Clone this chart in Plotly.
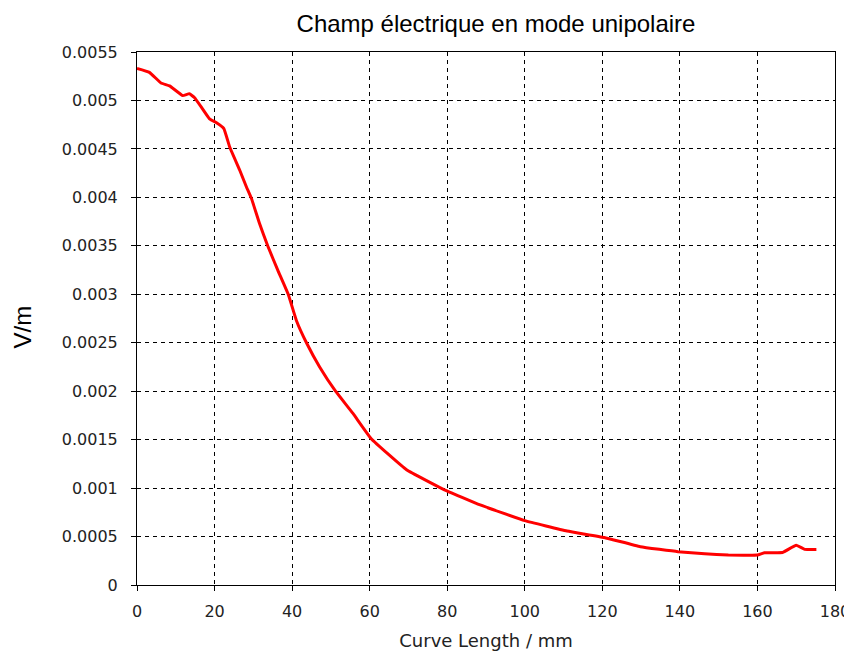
import plotly.graph_objects as go

# Data
curve_length_mm = [0, 3.2, 6.2, 8.4, 11.8, 13.5, 14.8, 16.6, 18.7, 20.5, 22.4, 23.9,
                   26.5, 28.2, 29.5, 31.6, 33.7, 36.3, 39.0, 41.1, 43.7, 47.1, 51.2,
                   55.7, 60.4, 69.5, 78.9, 88.5, 100.0, 110.9, 120.5, 129.8, 139.5,
                   146.4, 152.5, 160.0, 161.8, 166.5, 170.0, 172.2, 175.2]
field_v_per_m = [0.00533, 0.00529, 0.00518, 0.00515, 0.00505, 0.00507, 0.00503, 0.00493,
                 0.00481, 0.00477, 0.00471, 0.00452, 0.00428, 0.00411, 0.00399, 0.00373,
                 0.00350, 0.00325, 0.00300, 0.00273, 0.00250, 0.00225, 0.00200, 0.00177,
                 0.00151, 0.00119, 0.00099, 0.000826, 0.000664, 0.000557, 0.00049,
                 0.000395, 0.000344, 0.000323, 0.000309, 0.000309, 0.000333, 0.000336,
                 0.00041, 0.000368, 0.000366]

x_tick_vals = [0, 20, 40, 60, 80, 100, 120, 140, 160, 180]
y_tick_vals = [0, 0.0005, 0.001, 0.0015, 0.002, 0.0025, 0.003, 0.0035, 0.004, 0.0045, 0.005, 0.0055]
y_tick_text = ["0", "0.0005", "0.001", "0.0015", "0.002", "0.0025", "0.003", "0.0035",
               "0.004", "0.0045", "0.005", "0.0055"]

title_text = "Champ électrique en mode unipolaire"
x_title = "Curve Length / mm"
y_title = "V/m"

# The page body adds an 8px margin, so the figure is 844x648
W, H = 844, 648

fig = go.Figure()
fig.add_trace(go.Scatter(x=curve_length_mm, y=field_v_per_m, mode="lines",
                         line=dict(color="#ff0000", width=3, shape="spline", smoothing=0.3),
                         showlegend=False, hoverinfo="x+y"))

tick_font = dict(family="DejaVu Sans", size=16, color="#222222")
axis_common = dict(showline=True, linecolor="black", linewidth=1, mirror=True,
                   showgrid=True, gridcolor="black", gridwidth=1, griddash="4px,4px",
                   ticks="outside", ticklen=5, tickcolor="black", tickfont=tick_font,
                   zeroline=False, automargin=False, ticklabeloverflow="allow")

fig.update_layout(
    width=W, height=H,
    margin=dict(l=129, r=17, t=44, b=71),
    paper_bgcolor="white", plot_bgcolor="white",
    title=dict(text=title_text, x=488 / W, xanchor="center", xref="container",
               y=1 - 16 / H, yanchor="middle", yref="container",
               font=dict(family="Liberation Sans", size=24, color="black")),
    xaxis=dict(range=[0, 180], tickvals=x_tick_vals, ticklabelstandoff=7,
               title=dict(text=x_title, standoff=14,
                          font=dict(family="DejaVu Sans", size=18, color="#222222")),
               **axis_common),
    yaxis=dict(range=[0, 0.0055], tickvals=y_tick_vals, ticktext=y_tick_text,
               ticklabelstandoff=10, **axis_common),
    annotations=[dict(text=y_title, textangle=-90, xref="paper", yref="paper",
                      x=0, xshift=-115, xanchor="center", y=(577 - 319.5) / 533,
                      yanchor="middle", showarrow=False,
                      font=dict(family="Liberation Sans", size=24, color="black"))],
)

fig.write_html("out.html",
               post_script="document.documentElement.style.overflow='hidden';"
                           "document.body.style.overflow='hidden';")
